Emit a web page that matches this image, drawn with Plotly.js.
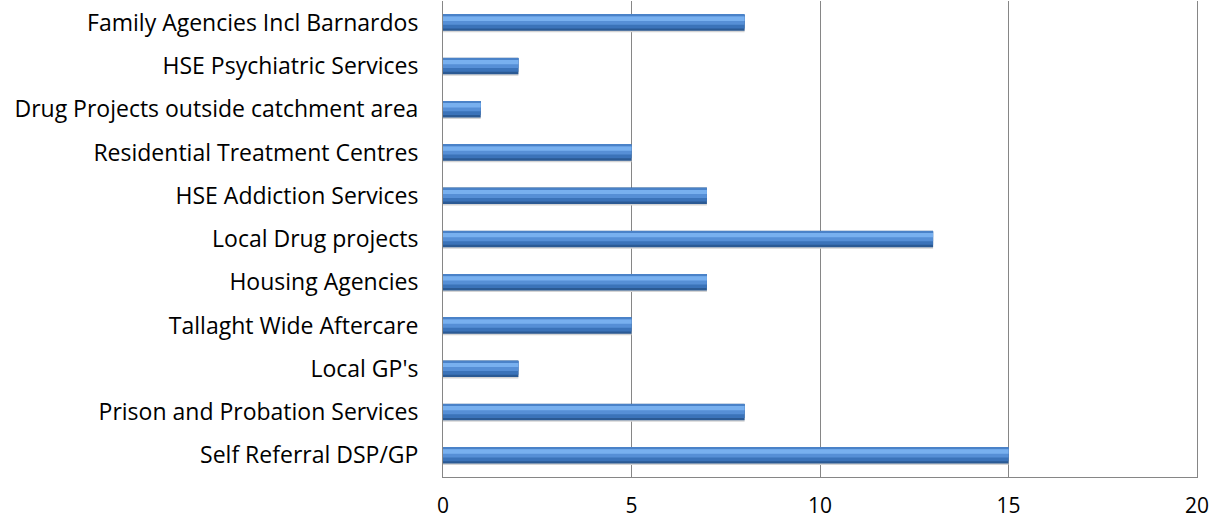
<!DOCTYPE html>
<html>
<head>
<meta charset="utf-8">
<script src="https://cdn.plot.ly/plotly-3.0.1.min.js"></script>
<style>html,body{margin:0;padding:0;background:#fff;}#chart{width:1222px;height:521px;}</style>
</head>
<body>
<div id="chart"></div>
<script>
const categories = [
  "Self Referral DSP/GP",
  "Prison and Probation Services",
  "Local GP's",
  "Tallaght Wide Aftercare",
  "Housing Agencies",
  "Local Drug projects",
  "HSE Addiction Services",
  "Residential Treatment Centres",
  "Drug Projects outside catchment area",
  "HSE Psychiatric Services",
  "Family Agencies Incl Barnardos"
];
const values = [15, 8, 2, 5, 7, 13, 7, 5, 1, 2, 8];
const xTicks = [0, 5, 10, 15, 20];

const layers = [
  {color: "#d4d4d4", width: 0.40, offset: -0.225},
  {color: "#2b5a94", width: 0.38, offset: -0.19},
  {color: "#3b73b9", width: 0.31, offset: -0.135},
  {color: "#568fd6", width: 0.22, offset: -0.05},
  {color: "#78b0ef", width: 0.10, offset: 0.04},
  {color: "#4a82c8", width: 0.03, offset: 0.155}
];
const traces = layers.map(l => ({
  type: "bar",
  orientation: "h",
  x: values,
  y: categories,
  width: l.width,
  offset: l.offset,
  marker: {color: l.color, line: {width: 0}},
  hoverinfo: "x+y",
  showlegend: false
}));

const layout = {
  width: 1222,
  height: 521,
  margin: {l: 443, r: 25, t: 1, b: 44},
  paper_bgcolor: "#ffffff",
  plot_bgcolor: "#ffffff",
  barmode: "overlay",
  font: {family: "'Open Sans', 'Noto Sans', sans-serif", size: 22, color: "#000000"},
  xaxis: {
    range: [0, 20],
    tickvals: xTicks,
    ticktext: xTicks.map(String),
    showgrid: true,
    gridcolor: "#868686",
    gridwidth: 1,
    zeroline: false,
    showline: true,
    linecolor: "#868686",
    linewidth: 1,
    ticks: "",
    ticklabelstandoff: 10,
    tickfont: {size: 21}
  },
  yaxis: {
    type: "category",
    categoryorder: "array",
    categoryarray: categories,
    showgrid: false,
    zeroline: false,
    showline: true,
    mirror: true,
    linecolor: "#868686",
    linewidth: 1,
    ticks: "",
    ticklabelstandoff: 19,
    tickfont: {size: 23}
  }
};
Plotly.newPlot("chart", traces, layout, {displayModeBar: false});
</script>
</body>
</html>
